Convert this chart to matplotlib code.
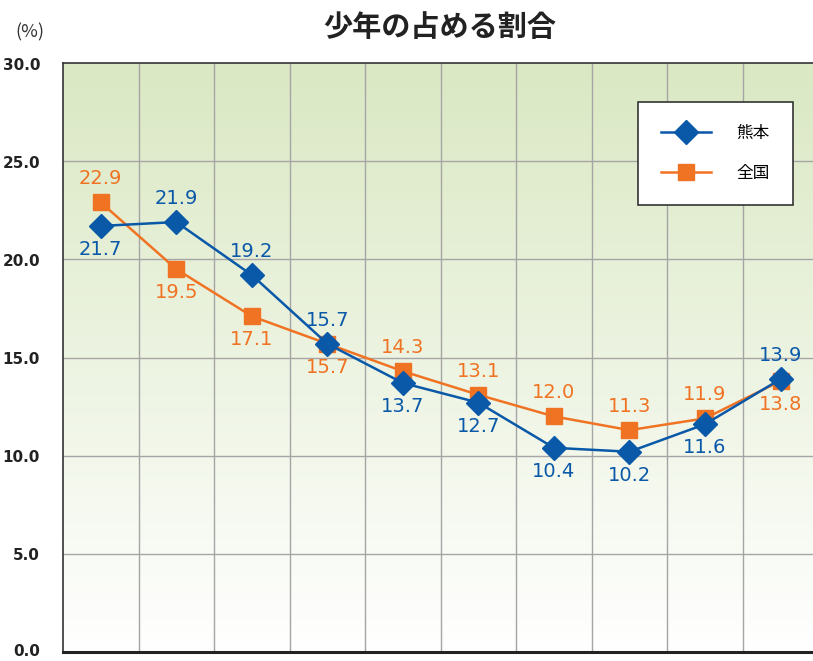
import matplotlib
matplotlib.use("Agg")
import matplotlib.pyplot as plt
import numpy as np
from matplotlib.colors import LinearSegmentedColormap

plt.rcParams['font.family'] = ['Noto Sans CJK JP', 'DejaVu Sans']

# data
kumamoto = [21.7, 21.9, 19.2, 15.7, 13.7, 12.7, 10.4, 10.2, 11.6, 13.9]
zenkoku = [22.9, 19.5, 17.1, 15.7, 14.3, 13.1, 12.0, 11.3, 11.9, 13.8]
# label above (+1) or below (-1) each point
kum_pos = [-1, 1, 1, 1, -1, -1, -1, -1, -1, 1]
zen_pos = [1, -1, -1, -1, 1, 1, 1, 1, 1, -1]
y_ticks = [0, 5, 10, 15, 20, 25, 30]

blue = '#0a58a8'
orange = '#f07323'

fig = plt.figure(figsize=(8.13, 6.61), dpi=100)
ax = fig.add_axes([63/813, 9/661, 1 - 63/813, 589/661])

x = np.arange(len(kumamoto))
ax.set_xlim(-0.5, 9.43)
ax.set_ylim(0, 30)

# green to white gradient background
cmap = LinearSegmentedColormap.from_list('bg', ['#ffffff', '#dae8c3'])
grad = np.linspace(0, 1, 256).reshape(-1, 1)
ax.imshow(grad, cmap=cmap, aspect='auto', extent=[-0.5, 9.43, 0, 30],
          origin='lower', zorder=0)

for yv in y_ticks[1:-1]:
    ax.axhline(yv, color='#a5a5a5', lw=1.0, zorder=1)
for xv in np.arange(0.5, 9.5, 1):
    ax.axvline(xv, color='#a5a5a5', lw=1.0, zorder=1)

ax.plot(x, zenkoku, color=orange, lw=1.8, marker='s', ms=11.5,
        label='全国', zorder=3)
ax.plot(x, kumamoto, color=blue, lw=1.8, marker='D', ms=12,
        label='熊本', zorder=4)

for i in x:
    ax.annotate(f'{kumamoto[i]:.1f}', (i, kumamoto[i]),
                xytext=(0, 17 * kum_pos[i]), textcoords='offset points',
                ha='center', va='center', color=blue, fontsize=14,
                family='DejaVu Sans')
    ax.annotate(f'{zenkoku[i]:.1f}', (i, zenkoku[i]),
                xytext=(0, 17 * zen_pos[i]), textcoords='offset points',
                ha='center', va='center', color=orange, fontsize=14,
                family='DejaVu Sans')

# y tick labels drawn as text so the bottom one stays inside the figure
ax.set_xticks([])
ax.set_yticks(y_ticks)
ax.set_yticklabels([])
ax.tick_params(axis='y', length=0)
for v in y_ticks:
    ax.annotate(f'{v:.1f}', (0, v), xycoords=('axes fraction', 'data'),
                xytext=(-23, 0 if v == 0 else -2), textcoords='offset pixels',
                ha='right', va='center', fontsize=11, fontweight='bold',
                family='DejaVu Sans Condensed', color='#222222',
                annotation_clip=False)

for s in ['left', 'top']:
    ax.spines[s].set_color('#333333')
    ax.spines[s].set_linewidth(1.2)
ax.spines['bottom'].set_color('#222222')
ax.spines['bottom'].set_linewidth(2.2)
ax.spines['right'].set_visible(False)

handles, labels = ax.get_legend_handles_labels()
leg = ax.legend(handles[::-1], labels[::-1], loc='upper left',
                bbox_to_anchor=((638 - 63) / 750, 1 - (102 - 63) / 589),
                prop={'size': 12}, frameon=True, fancybox=False,
                handlelength=3.0, borderpad=1.4, labelspacing=1.35,
                handletextpad=1.5, borderaxespad=0)
leg.get_frame().set_edgecolor('#333333')
leg.get_frame().set_linewidth(1.2)
leg.get_frame().set_facecolor('white')
leg.get_frame().set_alpha(1)

fig.text(440/813, 1 - 27/661, '少年の占める割合', ha='center', va='center',
         fontsize=21, fontweight='bold', color='#222222')
fig.text(30/813, 1 - 32/661, '(%)', ha='center', va='center', fontsize=13,
         color='#333333')

fig.savefig('out.png', dpi=100)
